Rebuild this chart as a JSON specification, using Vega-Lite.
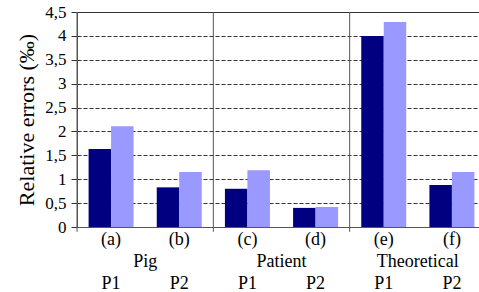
{
  "$schema": "https://vega.github.io/schema/vega-lite/v6.json",
  "width": 402,
  "height": 215,
  "autosize": {"type": "none"},
  "padding": {"left": 77, "top": 12, "right": 0, "bottom": 65},
  "config": {
    "font": "Times New Roman",
    "view": {"stroke": null},
    "axis": {"labelColor": "black", "titleColor": "black", "labelFont": "Times New Roman", "titleFont": "Times New Roman"}
  },
  "datasets": {
    "bars": [
      {"slot": "(a)|P1", "series": "s1", "value": 1.63},
      {"slot": "(a)|P1", "series": "s2", "value": 2.11},
      {"slot": "(b)|P2", "series": "s1", "value": 0.83},
      {"slot": "(b)|P2", "series": "s2", "value": 1.15},
      {"slot": "(c)|P1", "series": "s1", "value": 0.80},
      {"slot": "(c)|P1", "series": "s2", "value": 1.19},
      {"slot": "(d)|P2", "series": "s1", "value": 0.40},
      {"slot": "(d)|P2", "series": "s2", "value": 0.42},
      {"slot": "(e)|P1", "series": "s1", "value": 4.00},
      {"slot": "(e)|P1", "series": "s2", "value": 4.29},
      {"slot": "(f)|P2", "series": "s1", "value": 0.88},
      {"slot": "(f)|P2", "series": "s2", "value": 1.15}
    ],
    "seps": [
      {"section": "Pig"},
      {"section": "Patient"},
      {"section": "Theoretical"}
    ]
  },
  "layer": [
    {
      "data": {"name": "bars"},
      "mark": {"type": "bar"},
      "encoding": {
        "x": {
          "field": "slot", "type": "nominal", "sort": null,
          "scale": {"range": [0, 409], "paddingInner": 0.34, "paddingOuter": 0.17},
          "axis": {
            "orient": "bottom", "title": null, "labelAngle": 0, "ticks": false, "grid": false,
            "domain": true, "domainColor": "#555", "labelFontSize": 18, "labelPadding": 3,
            "labelFont": "Times New Roman",
            "labelLineHeight": 44, "labelOverlap": false,
            "labelExpr": "split(datum.value,'|')"
          }
        },
        "xOffset": {"field": "series", "type": "nominal", "sort": ["s1", "s2"], "scale": {"paddingInner": 0, "paddingOuter": 0}},
        "y": {
          "field": "value", "type": "quantitative",
          "scale": {"domain": [0, 4.5], "nice": false, "zero": true},
          "axis": {
            "values": [0, 0.5, 1, 1.5, 2, 2.5, 3, 3.5, 4, 4.5],
            "labelExpr": "replace(toString(datum.value), '.', ',')",
            "labelOverlap": false,
            "grid": true, "gridColor": "#333", "gridWidth": 1,
            "gridDash": {"condition": {"test": "datum.value == 4.5", "value": []}, "value": [4, 2]},
            "tickColor": "#333", "tickSize": 6, "domainColor": "#555",
            "labelFontSize": 17, "labelPadding": 5,
            "labelFont": "Times New Roman", "titleFont": "Times New Roman",
            "title": "Relative errors (‰)", "titleFontSize": 22, "titleFontWeight": "normal", "titlePadding": 6
          }
        },
        "color": {"field": "series", "type": "nominal", "scale": {"domain": ["s1", "s2"], "range": ["#000080", "#9999ff"]}, "legend": null}
      }
    },
    {
      "data": {"name": "seps"},
      "mark": {"type": "rule", "color": "#555", "strokeWidth": 1, "clip": false},
      "encoding": {
        "x": {
          "field": "section", "type": "nominal", "bandPosition": 0,
          "scale": {"domain": ["Pig", "Patient", "Theoretical"], "range": [0, 409], "paddingInner": 0, "paddingOuter": 0},
          "axis": {
            "orient": "bottom", "title": null, "labelAngle": 0, "ticks": false, "grid": false, "domain": false,
            "labelFont": "Times New Roman",
            "labelFontSize": 18, "labelPadding": 25, "labelOverlap": false
          }
        },
        "y": {
          "datum": 4.5,
          "scale": {"domain": [0, 4.5], "nice": false},
          "axis": {
            "values": [0, 0.5, 1, 1.5, 2, 2.5, 3, 3.5, 4, 4.5],
            "labelExpr": "replace(toString(datum.value), '.', ',')",
            "labelOverlap": false,
            "grid": true, "gridColor": "#333", "gridWidth": 1,
            "gridDash": {"condition": {"test": "datum.value == 4.5", "value": []}, "value": [4, 2]},
            "tickColor": "#333", "tickSize": 6, "domainColor": "#555",
            "labelFontSize": 17, "labelPadding": 5,
            "labelFont": "Times New Roman", "titleFont": "Times New Roman",
            "title": "Relative errors (‰)", "titleFontSize": 22, "titleFontWeight": "normal", "titlePadding": 6
          }
        },
        "y2": {"datum": -0.1}
      }
    }
  ],
  "resolve": {"scale": {"x": "independent"}, "axis": {"x": "independent"}}
}
